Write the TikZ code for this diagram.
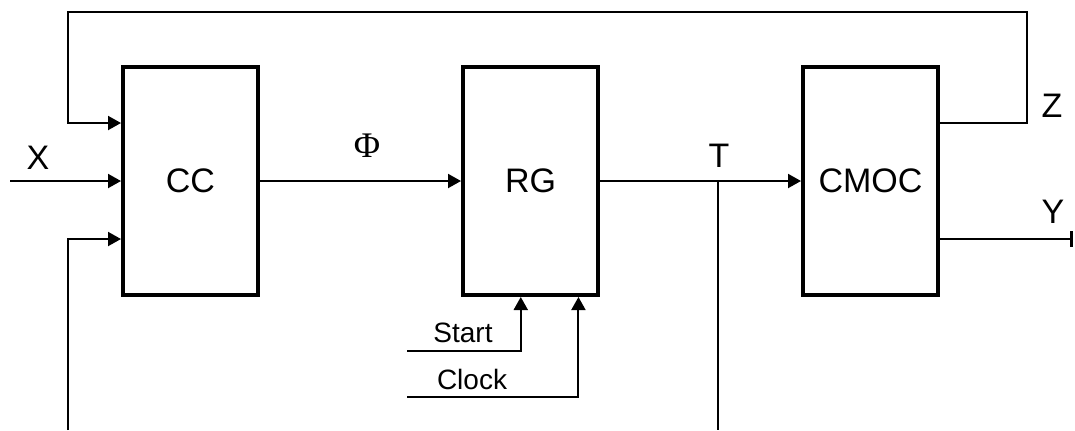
\documentclass[tikz,border=0pt]{standalone}
\usepackage{fontspec}
\setmainfont{Liberation Sans}
\newfontfamily\serifphi{Liberation Serif}
\usetikzlibrary{arrows.meta,calc}

\tikzset{
	block/.style={draw,line width=2pt,minimum width=67.5pt,minimum height=114pt,inner sep=0pt,font=\fontsize{17}{20}\selectfont},
	wire/.style={line width=1pt},
	sig/.style={wire,-{Triangle[length=6.5pt,width=7pt]}},
	lab/.style={inner sep=0pt,font=\fontsize{17}{20}\selectfont},
	smalllab/.style={inner sep=0pt,font=\fontsize{14}{16}\selectfont}
}

\begin{document}
\begin{tikzpicture}[x=0.5pt,y=-0.5pt]
		\useasboundingbox (0,0) rectangle (1075,430);
		\node[block] (CC) at (190.5,181) {CC};
		\node[block] (RG) at (530.5,181) {RG};
		\node[block] (CMOC) at (870.5,181) {CMOC};
		\coordinate (inA) at ($(CC.north west)!0.25!(CC.south west)$);
		\coordinate (inB) at ($(CC.north west)!0.75!(CC.south west)$);
		\coordinate (zout) at ($(CMOC.north east)!0.25!(CMOC.south east)$);
		\coordinate (yout) at ($(CMOC.north east)!0.75!(CMOC.south east)$);
		\coordinate (stA) at ($(RG.south west)!0.43!(RG.south east)$);
		\coordinate (clA) at ($(RG.south west)!0.845!(RG.south east)$);
		\coordinate (zr) at (1027,12);
		\coordinate (zl) at (68,12);
		\coordinate (xin) at (10,181);
		\coordinate (bot) at (68,430);
		\coordinate (tap) at (718,181);
		\coordinate (tbot) at (718,430);
		\coordinate (yend) at (yout -| 1073,0);
		\coordinate (stin) at (407,351);
		\coordinate (clin) at (407,397);
		% signals
		\draw[sig] (zout) -| (zr) -- (zl) |- (inA);
		\draw[sig] (xin) -- (CC.west);
		\draw[sig] (bot) |- (inB);
		\draw[sig] (CC) -- (RG);
		\draw[sig] (RG) -- (CMOC);
		\draw[wire] (tap) -- (tbot);
		\draw[wire,-{Bar[width=8pt,line width=1.5pt]}] (yout) -- (yend);
		\draw[sig] (stin) -| (stA);
		\draw[sig] (clin) -| (clA);
		% labels
		\node[lab] (lx) at (38,158) {X};
		\node[lab,font=\serifphi\fontsize{18}{20}\selectfont] (lphi) at (367,146) {Φ};
		\node[lab] (lt) at (719,156) {T};
		\node[lab] (lz) at (1052,106) {Z};
		\node[lab] (ly) at (1053,212) {Y};
		\node[smalllab] (lstart) at (463,333) {Start};
		\node[smalllab] (lclock) at (472,379) {Clock};
	\end{tikzpicture}
\end{document}
